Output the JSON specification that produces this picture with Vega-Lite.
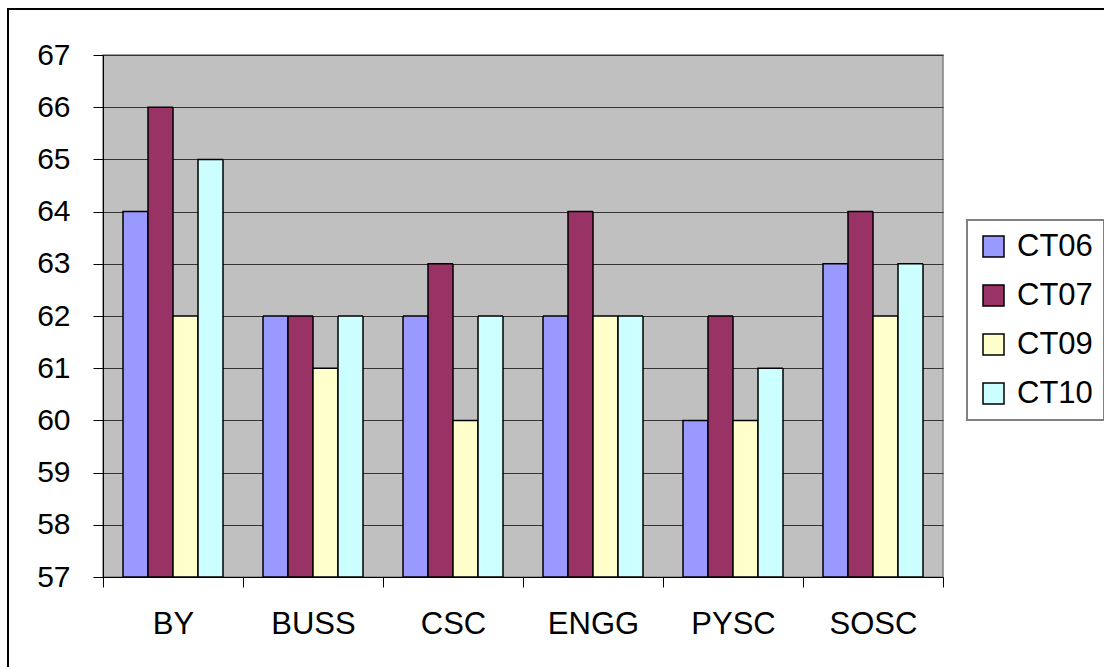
{
  "$schema": "https://vega.github.io/schema/vega-lite/v6.json",
  "autosize": {"type": "none"},
  "width": 840,
  "height": 522,
  "padding": {"left": 103, "top": 55, "right": 161, "bottom": 90},
  "background": "white",
  "data": {
    "values": [
      {"dept": "BY", "series": "CT06", "value": 64},
      {"dept": "BY", "series": "CT07", "value": 66},
      {"dept": "BY", "series": "CT09", "value": 62},
      {"dept": "BY", "series": "CT10", "value": 65},
      {"dept": "BUSS", "series": "CT06", "value": 62},
      {"dept": "BUSS", "series": "CT07", "value": 62},
      {"dept": "BUSS", "series": "CT09", "value": 61},
      {"dept": "BUSS", "series": "CT10", "value": 62},
      {"dept": "CSC", "series": "CT06", "value": 62},
      {"dept": "CSC", "series": "CT07", "value": 63},
      {"dept": "CSC", "series": "CT09", "value": 60},
      {"dept": "CSC", "series": "CT10", "value": 62},
      {"dept": "ENGG", "series": "CT06", "value": 62},
      {"dept": "ENGG", "series": "CT07", "value": 64},
      {"dept": "ENGG", "series": "CT09", "value": 62},
      {"dept": "ENGG", "series": "CT10", "value": 62},
      {"dept": "PYSC", "series": "CT06", "value": 60},
      {"dept": "PYSC", "series": "CT07", "value": 62},
      {"dept": "PYSC", "series": "CT09", "value": 60},
      {"dept": "PYSC", "series": "CT10", "value": 61},
      {"dept": "SOSC", "series": "CT06", "value": 63},
      {"dept": "SOSC", "series": "CT07", "value": 64},
      {"dept": "SOSC", "series": "CT09", "value": 62},
      {"dept": "SOSC", "series": "CT10", "value": 63}
    ]
  },
  "mark": {"type": "bar", "stroke": "black", "strokeWidth": 1.5},
  "encoding": {
    "x": {
      "field": "dept",
      "type": "nominal",
      "sort": ["BY", "BUSS", "CSC", "ENGG", "PYSC", "SOSC"],
      "scale": {"paddingInner": 0, "paddingOuter": 0},
      "axis": {
        "title": null,
        "labelAngle": 0,
        "labelFontSize": 31,
        "labelPadding": 22,
        "tickBand": "extent",
        "tickSize": 10,
        "tickColor": "black",
        "domainColor": "black",
        "grid": false
      }
    },
    "xOffset": {
      "field": "series",
      "type": "nominal",
      "scale": {"paddingInner": 0, "paddingOuter": 0.8}
    },
    "y": {
      "field": "value",
      "type": "quantitative",
      "scale": {"domain": [57, 67], "zero": false, "nice": false},
      "axis": {
        "title": null,
        "values": [57, 58, 59, 60, 61, 62, 63, 64, 65, 66, 67],
        "labelFontSize": 30,
        "labelPadding": 23,
        "tickSize": 10,
        "tickColor": "black",
        "domainColor": "black",
        "grid": true,
        "gridColor": "#333333",
        "gridOpacity": 1
      }
    },
    "y2": {"datum": 57},
    "color": {
      "field": "series",
      "type": "nominal",
      "scale": {
        "domain": ["CT06", "CT07", "CT09", "CT10"],
        "range": ["#9999FF", "#993366", "#FFFFCC", "#CCFFFF"]
      },
      "legend": {
        "title": null,
        "orient": "none",
        "legendX": 864,
        "legendY": 165,
        "padding": 11,
        "strokeColor": "#808080",
        "fillColor": "white",
        "symbolType": "square",
        "symbolSize": 441,
        "symbolStrokeColor": "black",
        "symbolStrokeWidth": 1.5,
        "symbolOpacity": 1,
        "labelFontSize": 31,
        "labelOffset": 8,
        "rowPadding": 17
      }
    },
    "strokeDash": {
      "field": "dept",
      "type": "nominal",
      "scale": {"range": [[1, 0]]},
      "legend": {
        "title": null,
        "orient": "none",
        "legendX": -95,
        "legendY": -46,
        "values": ["BY"],
        "padding": 600,
        "strokeColor": "black",
        "symbolSize": 0,
        "symbolOpacity": 0,
        "labelExpr": "''",
        "labelFontSize": 1
      }
    }
  },
  "config": {
    "font": "Liberation Sans",
    "view": {"fill": "#C0C0C0", "stroke": "#808080", "strokeWidth": 1.5},
    "axis": {"labelColor": "black", "labelFont": "Liberation Sans"},
    "legend": {"labelColor": "black", "labelFont": "Liberation Sans", "strokeWidth": 2}
  }
}
